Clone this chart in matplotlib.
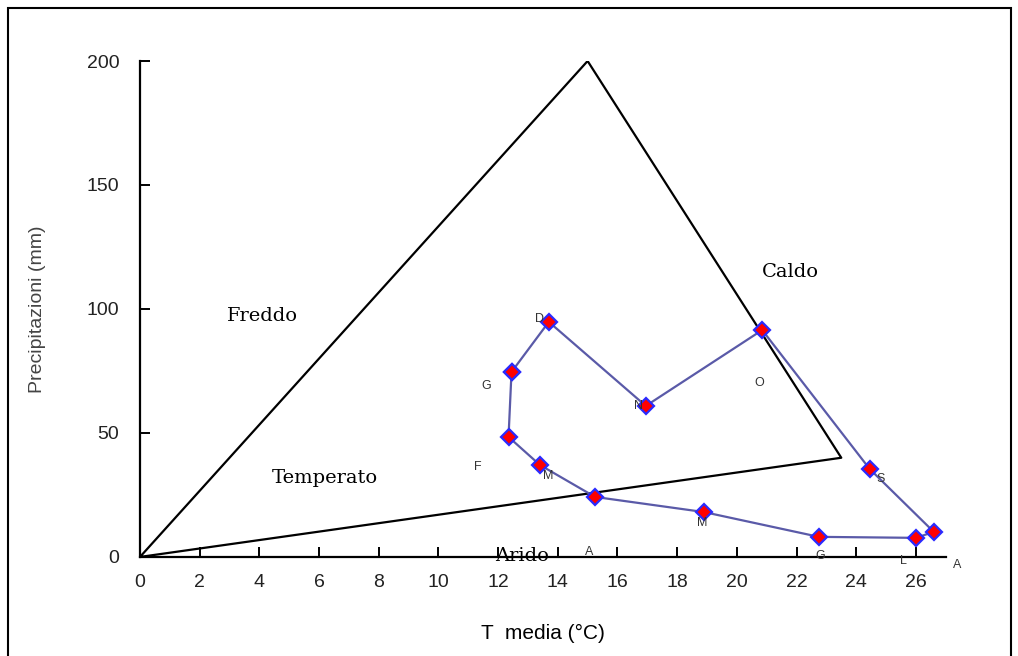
import numpy as np
import matplotlib
matplotlib.use("Agg")
from matplotlib import pyplot as plt
from matplotlib.patches import Rectangle

# monthly mean temperature (°C) and precipitation (mm), Jan..Dec
months = ['G', 'F', 'M', 'A', 'M', 'G', 'L', 'A', 'S', 'O', 'N', 'D']
temp = [12.45, 12.35, 13.4, 15.25, 18.9, 22.75, 26.0, 26.6, 24.45, 20.85, 16.95, 13.7]
prec = [74.6, 48.4, 37.1, 24.2, 18.1, 8.1, 7.7, 10.1, 35.5, 91.5, 60.9, 94.8]

# Peguy triangle vertices
tri_t = [0, 15, 23.5, 0]
tri_p = [0, 200, 40, 0]

zones = ['Freddo', 'Caldo', 'Temperato', 'Arido']
zone_t = [4.1, 21.8, 6.2, 12.8]
zone_p = [97, 115, 32, 0.5]

# where each month letter sits relative to its point (points)
lab_off = [(-18, -10), (-22, -22), (6, -8), (-4, -40), (-1, -8),
           (1, -14), (-9, -17), (17, -24), (8, -7), (-2, -38), (-5, 0), (-7, 2)]

fig = plt.figure(figsize=(10.18, 6.56), dpi=100)
ax = fig.add_axes([0.1375, 0.151, 0.7915, 0.756])

ax.plot(tri_t, tri_p, color='black', lw=1.6, zorder=2)

ax.plot(temp + temp[:1], prec + prec[:1], color='#5a5aa8', lw=1.6,
        marker='D', markersize=8, markerfacecolor='#ff0000',
        markeredgecolor='#2a2aff', markeredgewidth=1.6, zorder=3)

for m, t, p, off in zip(months, temp, prec, lab_off):
    ax.annotate(m, (t, p), xytext=off, textcoords='offset points',
                ha='center', va='center', fontsize=9, color='#333333',
                family='Liberation Sans')

for z, t, p in zip(zones, zone_t, zone_p):
    ax.text(t, p, z, ha='center', va='center', fontsize=14, family='DejaVu Serif')

ax.set_xlim(0, 27)
ax.set_ylim(0, 200)
ax.set_xticks(np.arange(0, 27, 2))
ax.set_yticks([0, 50, 100, 150, 200])
ax.spines['top'].set_visible(False)
ax.spines['right'].set_visible(False)
ax.spines['left'].set_linewidth(1.6)
ax.spines['bottom'].set_linewidth(1.6)
ax.tick_params(direction='in', length=7, width=1.4, labelsize=14, pad=12)
for lab in ax.get_xticklabels() + ax.get_yticklabels():
    lab.set_family('Liberation Sans')
    lab.set_color('#222222')
ax.tick_params(axis='y', pad=15)

ax.set_xlabel('T  media (°C)', family='Liberation Sans', fontsize=15, labelpad=24)
ax.set_ylabel('Precipitazioni (mm)', family='Liberation Sans', fontsize=14,
              color='#444444', labelpad=29)

fig.patches.append(Rectangle((8 / 1018, -0.05), 1003 / 1018, 1 - 8 / 656 + 0.05,
                             transform=fig.transFigure, fill=False,
                             edgecolor='black', lw=1.5))

fig.savefig('out.png', dpi=100)
